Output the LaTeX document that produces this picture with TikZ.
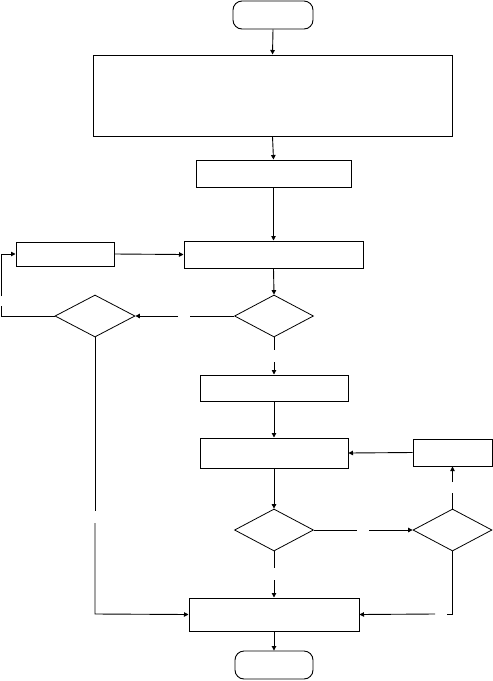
\documentclass[tikz,border=0pt]{standalone}
\usetikzlibrary{arrows.meta,shapes.geometric}
\begin{document}
\begin{tikzpicture}[x=1pt,y=-1pt,
  box/.style={draw,line width=1pt,inner sep=0pt,rectangle},
  term/.style={draw,line width=0.9pt,inner sep=0pt,rectangle,rounded corners=9pt},
  dec/.style={draw,line width=0.8pt,inner sep=0pt,diamond},
  conn/.style={line width=0.9pt},
  arr/.style={line width=0.9pt,-{Triangle[length=4.5pt,width=4.5pt]}}]
\useasboundingbox (0,0) rectangle (493,681);
\node[term,minimum width=80pt,minimum height=28pt] (start) at (273,15) {};
\node[box,minimum width=359pt,minimum height=81pt] (big) at (272.5,95.5) {};
\node[box,minimum width=155pt,minimum height=27pt] (b2) at (273.5,173.5) {};
\node[box,minimum width=179pt,minimum height=27pt] (b3) at (273.5,254.5) {};
\node[box,minimum width=98pt,minimum height=24pt] (lb) at (65,254) {};
\node[dec,minimum width=79pt,minimum height=42pt] (d1) at (274,316) {};
\node[dec,minimum width=80pt,minimum height=42pt] (d2) at (95,316) {};
\node[box,minimum width=148pt,minimum height=26pt] (b4) at (274,388) {};
\node[box,minimum width=148pt,minimum height=30pt] (b5) at (274,453) {};
\node[box,minimum width=79pt,minimum height=27pt] (rb) at (452.5,452.5) {};
\node[dec,minimum width=79pt,minimum height=42pt] (d3) at (274,530) {};
\node[dec,minimum width=79pt,minimum height=42pt] (d4) at (452.5,530) {};
\node[box,minimum width=170pt,minimum height=33pt] (b6) at (274,614.5) {};
\node[term,minimum width=78pt,minimum height=28pt] (end) at (274,665) {};
% gap coordinates
\coordinate (g1a) at (190,316); \coordinate (g1b) at (178,316);
\coordinate (c2a) at (1,316); \coordinate (g2a) at (1,306); \coordinate (g2b) at (1,296); \coordinate (c2b) at (1,254);
\coordinate (g3a) at (274,350); \coordinate (g3b) at (274,362);
\coordinate (g4a) at (357,530); \coordinate (g4b) at (369,530);
\coordinate (g5a) at (452.5,493); \coordinate (g5b) at (452.5,482);
\coordinate (g6a) at (274,568); \coordinate (g6b) at (274,580);
\coordinate (c7) at (452.5,614); \coordinate (g7a) at (447,614); \coordinate (g7b) at (435,614);
\coordinate (g8a) at (95,511); \coordinate (g8b) at (95,523); \coordinate (c8) at (95,614);
% connectors
\draw[arr] (start.south) -- (big.north);
\draw[arr] (big.south) -- (b2.north);
\draw[arr] (b2.south) -- (b3.north);
\draw[arr] (lb.east) -- (b3.west);
\draw[arr] (b3.south) -- (d1.north);
\draw[conn] (d1.west) -- (g1a);
\draw[arr] (g1b) -- (d2.east);
\draw[conn] (d2.west) -- (c2a) -- (g2a);
\draw[arr] (g2b) -- (c2b) -- (lb.west);
\draw[conn] (d1.south) -- (g3a);
\draw[arr] (g3b) -- (b4.north);
\draw[arr] (b4.south) -- (b5.north);
\draw[arr] (rb.west) -- (b5.east);
\draw[arr] (b5.south) -- (d3.north);
\draw[conn] (d3.east) -- (g4a);
\draw[arr] (g4b) -- (d4.west);
\draw[conn] (d4.north) -- (g5a);
\draw[arr] (g5b) -- (rb.south);
\draw[conn] (d3.south) -- (g6a);
\draw[arr] (g6b) -- (b6.north);
\draw[conn] (d4.south) -- (c7) -- (g7a);
\draw[arr] (g7b) -- (b6.east);
\draw[conn] (d2.south) -- (g8a);
\draw[arr] (g8b) -- (c8) -- (b6.west);
\draw[arr] (b6.south) -- (end.north);
\end{tikzpicture}
\end{document}
